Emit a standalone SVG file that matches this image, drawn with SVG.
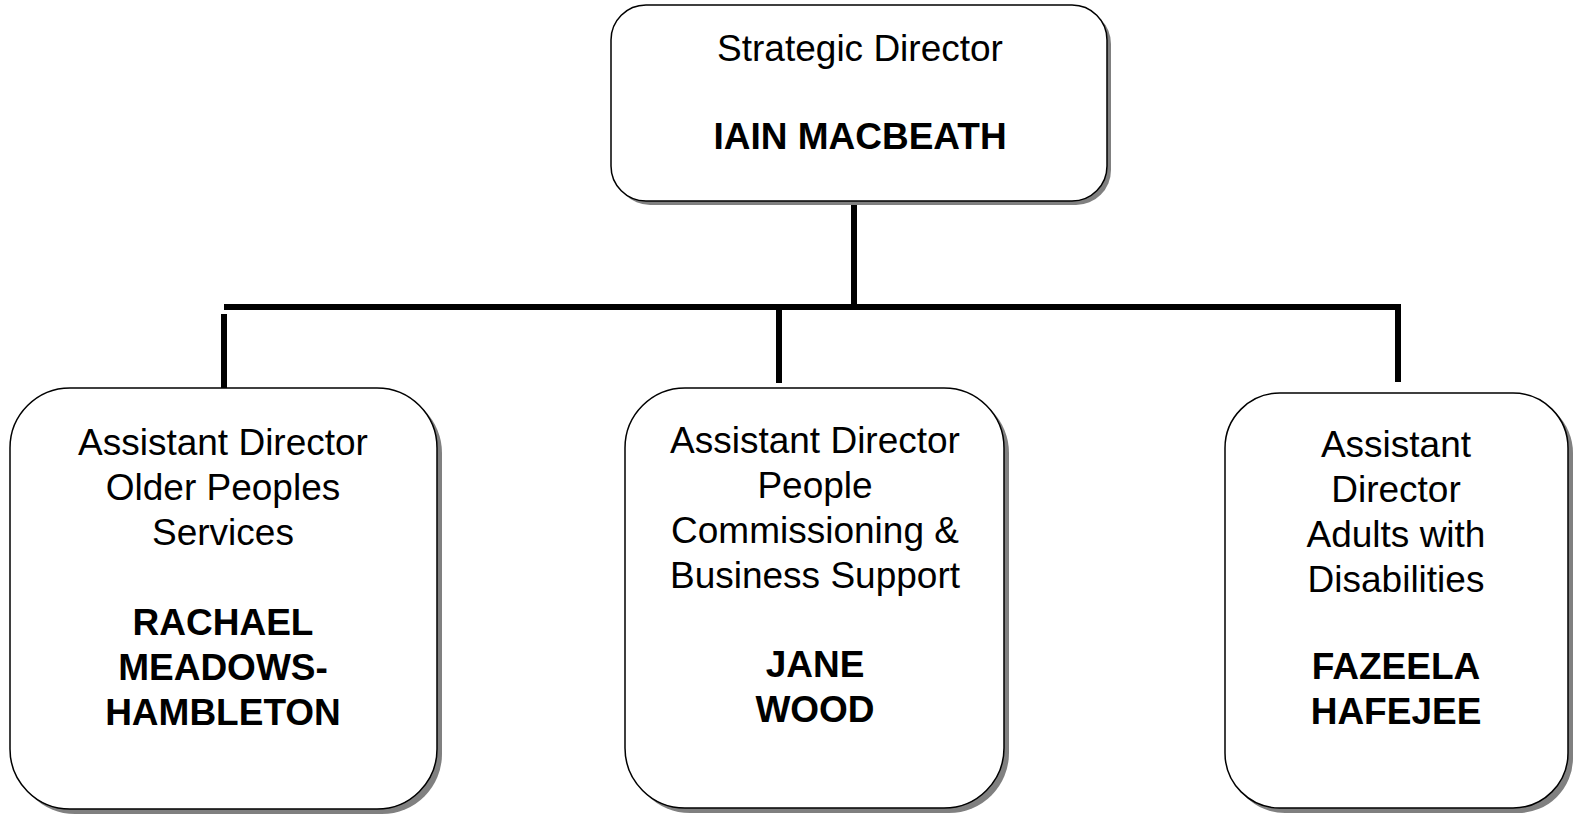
<svg xmlns="http://www.w3.org/2000/svg" width="1573" height="814" viewBox="0 0 1573 814">
<style>
.box{fill:#fff;stroke:#000;stroke-width:1.5}
.sh{fill:#808080}
.t{font-family:"Liberation Sans",Arial,sans-serif;font-size:37px;fill:#000;text-anchor:middle}
.b{font-weight:bold}
.c{stroke:#000;stroke-width:6;fill:none}
</style>
<rect width="1573" height="814" fill="#fff"/>
<g id="connectors">
<line class="c" x1="854" y1="201" x2="854" y2="307"/>
<line class="c" x1="224" y1="307" x2="1401" y2="307"/>
<line class="c" x1="224" y1="314" x2="224" y2="389"/>
<line class="c" x1="779" y1="309" x2="779" y2="383"/>
<path class="c" d="M1398 304 V382"/>
</g>
<g id="node-strategic">
<rect class="sh" x="615" y="9" width="496" height="196" rx="35"/>
<rect class="box" x="611" y="5" width="496" height="196" rx="35"/>
<text class="t" x="860" y="61">Strategic Director</text>
<text class="t b" x="860" y="149">IAIN MACBEATH</text>
</g>
<g id="node-older">
<rect class="sh" x="15" y="393" width="427" height="421" rx="60"/>
<rect class="box" x="10" y="388" width="427" height="421" rx="60"/>
<text class="t" x="223" y="455">Assistant Director</text>
<text class="t" x="223" y="500">Older Peoples</text>
<text class="t" x="223" y="545">Services</text>
<text class="t b" x="223" y="635">RACHAEL</text>
<text class="t b" x="223" y="680">MEADOWS-</text>
<text class="t b" x="223" y="725">HAMBLETON</text>
</g>
<g id="node-commissioning">
<rect class="sh" x="630" y="393" width="379" height="420" rx="60"/>
<rect class="box" x="625" y="388" width="379" height="420" rx="60"/>
<text class="t" x="815" y="453">Assistant Director</text>
<text class="t" x="815" y="498">People</text>
<text class="t" x="815" y="543">Commissioning &amp;</text>
<text class="t" x="815" y="588">Business Support</text>
<text class="t b" x="815" y="677">JANE</text>
<text class="t b" x="815" y="722">WOOD</text>
</g>
<g id="node-disabilities">
<rect class="sh" x="1230" y="398" width="343" height="415" rx="55"/>
<rect class="box" x="1225" y="393" width="343" height="415" rx="55"/>
<text class="t" x="1396" y="457">Assistant</text>
<text class="t" x="1396" y="502">Director</text>
<text class="t" x="1396" y="547">Adults with</text>
<text class="t" x="1396" y="592">Disabilities</text>
<text class="t b" x="1396" y="679">FAZEELA</text>
<text class="t b" x="1396" y="724">HAFEJEE</text>
</g>
</svg>
